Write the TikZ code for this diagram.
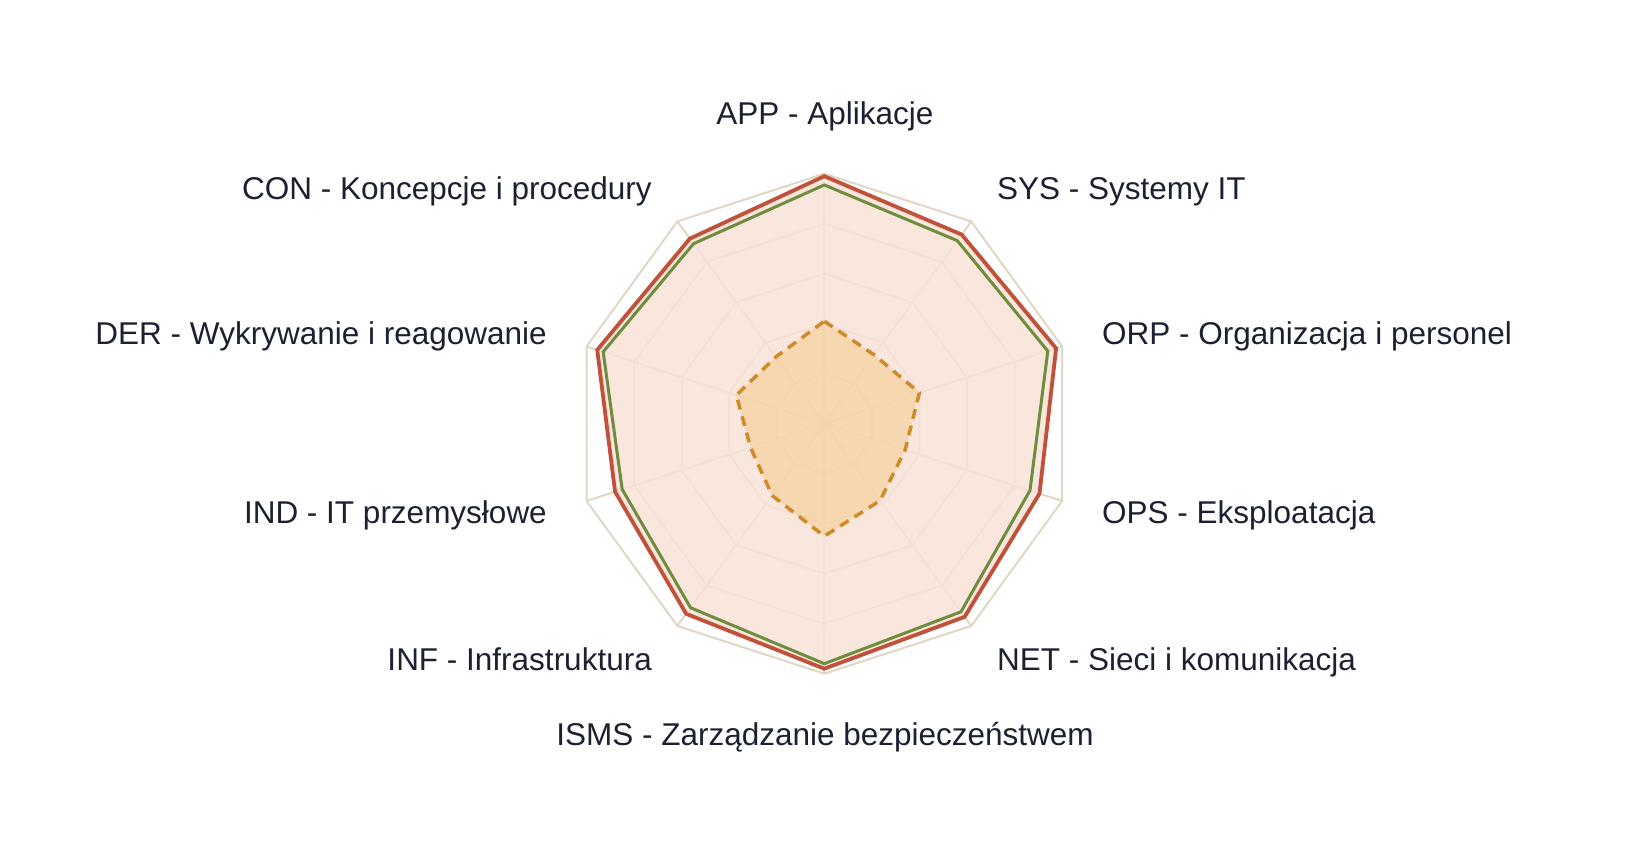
\documentclass[tikz,border=0pt]{standalone}
\usepackage{fontspec}
\setmainfont{Liberation Sans}
\definecolor{gridc}{RGB}{224,215,197}
\definecolor{peach}{RGB}{248,227,216}
\definecolor{redc}{RGB}{192,82,60}
\definecolor{greenc}{RGB}{112,140,62}
\definecolor{orc}{RGB}{207,138,42}
\definecolor{orfill}{RGB}{245,200,130}
\definecolor{txt}{RGB}{28,33,50}
\begin{document}
\begin{tikzpicture}[x=1pt,y=-1pt,
  gridline/.style={draw=gridc,line width=2pt},
  redser/.style={draw=redc,line width=3.8pt,fill=peach,fill opacity=0.85,line join=miter},
  greenser/.style={draw=greenc,line width=3pt,line join=miter},
  orser/.style={draw=orc,line width=3.5pt,dash pattern=on 10pt off 7pt,fill=orfill,fill opacity=0.5,line join=miter},
  lbl/.style={font=\fontsize{31.5}{38}\selectfont,text=txt,inner sep=0pt}]
\useasboundingbox (0,0) rectangle (1650,850);
\fill[white] (0,0) rectangle (1650,850);
\def\cx{824.3}
\def\cy{423.7}
\def\R{250}
\coordinate (c) at (\cx,\cy);
% grid
\foreach \f in {0.2,0.4,0.6,0.8,1.0}{
  \draw[gridline] ({\cx},{\cy-\f*\R})
    \foreach \k in {1,...,9}{ -- ({\cx+\f*\R*cos(90-36*\k)},{\cy-\f*\R*sin(90-36*\k)}) } -- cycle;
}
\foreach \k in {0,...,9}{
  \coordinate (o\k) at ({\cx+\R*cos(90-36*\k)},{\cy-\R*sin(90-36*\k)});
  \draw[gridline] (c) -- (o\k);
}
% series points
\foreach \v [count=\k from 0] in {0.99,0.935,0.975,0.905,0.955,0.98,0.94,0.88,0.955,0.915}
  \coordinate (r\k) at ({\cx+\R*\v*cos(90-36*\k)},{\cy-\R*\v*sin(90-36*\k)});
\foreach \v [count=\k from 0] in {0.955,0.905,0.94,0.865,0.93,0.96,0.91,0.85,0.93,0.89}
  \coordinate (g\k) at ({\cx+\R*\v*cos(90-36*\k)},{\cy-\R*\v*sin(90-36*\k)});
\foreach \v [count=\k from 0] in {0.41,0.34,0.40,0.34,0.38,0.45,0.355,0.31,0.37,0.33}
  \coordinate (d\k) at ({\cx+\R*\v*cos(90-36*\k)},{\cy-\R*\v*sin(90-36*\k)});
\draw[redser] (r0) -- (r1) -- (r2) -- (r3) -- (r4) -- (r5) -- (r6) -- (r7) -- (r8) -- (r9) -- cycle;
\draw[greenser] (g0) -- (g1) -- (g2) -- (g3) -- (g4) -- (g5) -- (g6) -- (g7) -- (g8) -- (g9) -- cycle;
\draw[orser] (d0) -- (d1) -- (d2) -- (d3) -- (d4) -- (d5) -- (d6) -- (d7) -- (d8) -- (d9) -- cycle;
% labels
\node[lbl,anchor=base] (lAPP) at (825,125) {APP - Aplikacje};
\node[lbl,anchor=base west] (lSYS) at (997,200) {SYS - Systemy IT};
\node[lbl,anchor=base west] (lORP) at (1102,345) {ORP - Organizacja i personel};
\node[lbl,anchor=base west] (lOPS) at (1102,523) {OPS - Eksploatacja};
\node[lbl,anchor=base west] (lNET) at (997,670) {NET - Sieci i komunikacja};
\node[lbl,anchor=base] (lISMS) at (825,745) {ISMS - Zarządzanie bezpieczeństwem};
\node[lbl,anchor=base east] (lINF) at (652,670) {INF - Infrastruktura};
\node[lbl,anchor=base east] (lIND) at (547,523) {IND - IT przemysłowe};
\node[lbl,anchor=base east] (lDER) at (547,345) {DER - Wykrywanie i reagowanie};
\node[lbl,anchor=base east] (lCON) at (652,200) {CON - Koncepcje i procedury};
\end{tikzpicture}
\end{document}
